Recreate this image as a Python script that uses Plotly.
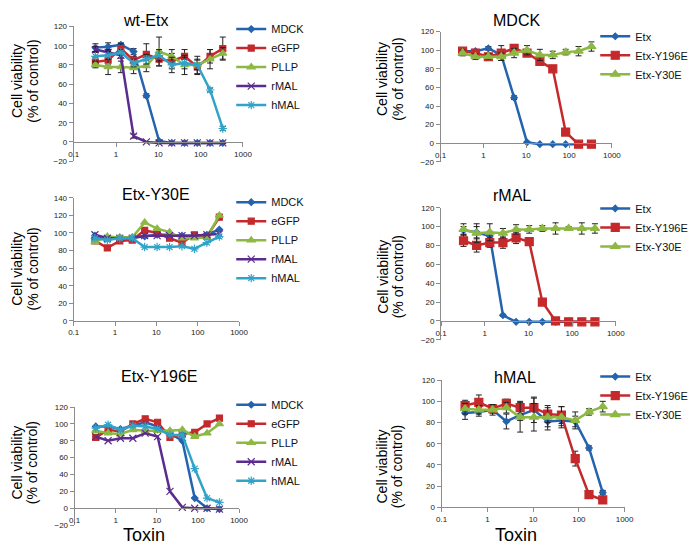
import plotly.graph_objects as go

W, H = 698, 545

# Toxin concentrations (two-fold dilution series)
conc = [0.326, 0.651, 1.302, 2.604, 5.208, 10.42, 20.83, 41.67, 83.33, 166.7, 333.3]
x_tickvals = [0.1, 1, 10, 100, 1000]
x_ticktext = ["0.1", "1", "10", "100", "1000"]

# ---- wt-Etx panel (cell lines) ----
wt_mdck = [98, 99, 101, 94, 48, 1, -1, -1, -1, -1, -1]
wt_egfp = [83, 85, 97, 85, 91, 86, 84, 89, 78, 89, 97]
wt_pllp = [80, 78, 78, 77, 79, 94, 89, 80, 80, 86, 92]
wt_rmal = [96, 93, 90, 6, 0, -1, -1, -1, -1, -1, -1]
wt_hmal = [89, 90, 93, 82, 86, 90, 80, 82, 80, 54, 14]
wt_mdck_err = [4, 4, 2, 3, 2, 1, 0, 0, 0, 0, 0]
wt_egfp_err = [5, 5, 5, 4, 11, 7, 8, 7, 8, 7, 12]
wt_pllp_err = [3, 8, 6, 6, 6, 15, 7, 10, 9, 10, 6]
wt_rmal_err = [3, 3, 3, 2, 0, 0, 0, 0, 0, 0, 0]
wt_hmal_err = [5, 4, 3, 4, 5, 6, 8, 6, 5, 2, 2]

# ---- Etx-Y30E panel ----
y30_mdck = [97, 94, 95, 95, 96, 98, 98, 97, 97, 98, 104]
y30_egfp = [91, 83, 91, 92, 103, 100, 94, 89, 98, 96, 118]
y30_pllp = [90, 96, 95, 95, 112, 105, 101, 94, 94, 95, 120]
y30_rmal = [98, 94, 94, 94, 97, 97, 97, 97, 97, 98, 99]
y30_hmal = [94, 92, 94, 94, 84, 84, 84, 85, 82, 89, 96]

# ---- Etx-Y196E panel ----
y196_mdck = [97, 97, 94, 98, 102, 97, 88, 80, 12, 0, -1]
y196_egfp = [84, 93, 91, 100, 106, 102, 84, 88, 90, 100, 107]
y196_pllp = [92, 89, 88, 93, 92, 92, 92, 93, 85, 89, 100]
y196_rmal = [85, 80, 83, 83, 89, 85, 20, 1, 0, 0, -1]
y196_hmal = [95, 99, 93, 98, 97, 94, 87, 87, 47, 12, 7]

# ---- MDCK panel (toxins) ----
mdck_etx = [99, 99, 102, 95, 49, 1, -1, -1, -1, -1, -1]
mdck_y196 = [99, 97, 93, 97, 102, 97, 88, 80, 12, -1, -1]
mdck_y30 = [97, 93, 93, 93, 97, 100, 95, 95, 98, 99, 104]
mdck_etx_err = [3, 2, 2, 2, 2, 1, 0, 0, 0, 0, 0]
mdck_y196_err = [3, 2, 2, 8, 2, 3, 3, 3, 2, 0, 0]
mdck_y30_err = [3, 3, 3, 4, 5, 5, 6, 4, 3, 5, 5]

# ---- rMAL panel ----
rmal_etx = [96, 94, 90, 6, -1, -1, -1, -1, -1, -1, -1]
rmal_y196 = [85, 80, 83, 83, 88, 84, 20, 0, -1, -1, -1]
rmal_y30 = [97, 93, 94, 93, 97, 97, 98, 98, 98, 98, 98]
rmal_etx_err = [4, 6, 5, 1, 0, 0, 0, 0, 0, 0, 0]
rmal_y196_err = [6, 7, 5, 6, 6, 3, 2, 0, 0, 0, 0]
rmal_y30_err = [6, 10, 9, 5, 5, 4, 3, 6, 2, 6, 5]

# ---- hMAL panel ----
hmal_etx = [89, 90, 92, 81, 87, 92, 81, 82, 81, 56, 14]
hmal_y196 = [96, 99, 93, 98, 94, 94, 88, 87, 46, 12, 7]
hmal_y30 = [93, 92, 92, 94, 85, 85, 85, 85, 82, 90, 95]
hmal_etx_err = [6, 4, 3, 7, 5, 12, 8, 5, 5, 2, 2]
hmal_y196_err = [5, 7, 4, 4, 6, 9, 8, 8, 7, 2, 2]
hmal_y30_err = [5, 4, 5, 5, 14, 13, 9, 10, 8, 3, 5]

BLUE = "#2463AE"
RED = "#C4292C"
GREEN = "#8DB843"
PURPLE = "#5B2C8E"
CYAN = "#31A3C9"
FONT = "Liberation Sans, Arial, sans-serif"

STYLE = {
    "MDCK": (BLUE, "diamond", 5),
    "eGFP": (RED, "square", 6),
    "PLLP": (GREEN, "triangle-up", 7),
    "rMAL": (PURPLE, "x-thin-open", 7),
    "hMAL": (CYAN, "asterisk-open", 7),
    "Etx": (BLUE, "diamond", 5),
    "Etx-Y196E": (RED, "square", 8),
    "Etx-Y30E": (GREEN, "triangle-up", 8),
}


def fx(px):
    return px / W


def fy(py):
    return 1 - py / H


panels = [
    dict(xd=(61, 234), yd=(14.7, 151.7), yr=(-20, 120), title="wt-Etx", tpos=(134, 9),
         lab_y=70, leg_y=56, leg_x=222, col=0),
    dict(xd=(61, 230), yd=(189, 314), yr=(0, 140), title="Etx-Y30E", tpos=(145, 186),
         lab_y=261, leg_y=232, leg_x=222, col=0),
    dict(xd=(62, 230), yd=(401.7, 521.7), yr=(-20, 120), title="Etx-Y196E", tpos=(148, 371),
         lab_y=458, leg_y=438, leg_x=222, col=0),
    dict(xd=(436, 611), yd=(20, 152.3), yr=(-20, 120), title="MDCK", tpos=(514, 9),
         lab_y=68, leg_y=44, leg_x=594, col=1),
    dict(xd=(436.5, 615), yd=(199, 333.3), yr=(-20, 120), title="rMAL", tpos=(509, 187),
         lab_y=269, leg_y=219, leg_x=594, col=1),
    dict(xd=(437, 624), yd=(374.3, 503.7), yr=(0, 120), title="hMAL", tpos=(512, 372),
         lab_y=462, leg_y=390, leg_x=594, col=1),
]

series = [
    [("MDCK", wt_mdck, wt_mdck_err), ("eGFP", wt_egfp, wt_egfp_err), ("PLLP", wt_pllp, wt_pllp_err),
     ("rMAL", wt_rmal, wt_rmal_err), ("hMAL", wt_hmal, wt_hmal_err)],
    [("MDCK", y30_mdck, None), ("eGFP", y30_egfp, None), ("PLLP", y30_pllp, None),
     ("rMAL", y30_rmal, None), ("hMAL", y30_hmal, None)],
    [("MDCK", y196_mdck, None), ("eGFP", y196_egfp, None), ("PLLP", y196_pllp, None),
     ("rMAL", y196_rmal, None), ("hMAL", y196_hmal, None)],
    [("Etx", mdck_etx, mdck_etx_err), ("Etx-Y196E", mdck_y196, mdck_y196_err),
     ("Etx-Y30E", mdck_y30, mdck_y30_err)],
    [("Etx", rmal_etx, rmal_etx_err), ("Etx-Y196E", rmal_y196, rmal_y196_err),
     ("Etx-Y30E", rmal_y30, rmal_y30_err)],
    [("Etx", hmal_etx, hmal_etx_err), ("Etx-Y196E", hmal_y196, hmal_y196_err),
     ("Etx-Y30E", hmal_y30, hmal_y30_err)],
]

fig = go.Figure()
annotations = []
layout = {}

for i, (p, ser) in enumerate(zip(panels, series)):
    n = i + 1
    sfx = "" if n == 1 else str(n)
    legname = "legend" if n == 1 else f"legend{n}"
    for name, vals, err in ser:
        color, sym, size = STYLE[name]
        tr = go.Scatter(
            x=conc, y=vals, name=name, mode="lines+markers",
            xaxis="x" + sfx, yaxis="y" + sfx, legend=legname,
            line=dict(color=color, width=2.5),
            marker=dict(symbol=sym, size=size, color=color, line=dict(color=color, width=1.2)),
        )
        if err is not None:
            tr.error_y = dict(type="data", array=err, visible=True, color="#222222",
                              thickness=1, width=3)
        fig.add_trace(tr)

    ymin, ymax = p["yr"]
    ydom = (fy(p["yd"][1]), fy(p["yd"][0]))
    xdom = (fx(p["xd"][0]), fx(p["xd"][1]))
    xa = dict(
        type="log", range=[-1, 3], domain=list(xdom),
        tickvals=x_tickvals, ticktext=x_ticktext,
        showline=True, linecolor="#8c8c8c", linewidth=1,
        ticks="outside", ticklen=4, tickcolor="#8c8c8c",
        showgrid=False, zeroline=False,
        tickfont=dict(size=8, color="#222", family=FONT),
    )
    if ymin < 0:
        zero_pos = ydom[0] + (0 - ymin) / (ymax - ymin) * (ydom[1] - ydom[0])
        xa.update(anchor="free", position=zero_pos)
    else:
        xa.update(anchor="y" + sfx)
    ya = dict(
        range=[ymin, ymax], domain=list(ydom), dtick=20, anchor="x" + sfx,
        showline=True, linecolor="#8c8c8c", linewidth=1,
        ticks="outside", ticklen=4, tickcolor="#8c8c8c",
        showgrid=False, zeroline=False,
        tickfont=dict(size=8, color="#222", family=FONT),
    )
    layout["xaxis" + sfx] = xa
    layout["yaxis" + sfx] = ya
    layout[legname] = dict(
        x=fx(p["leg_x"]), y=fy(p["leg_y"]), xanchor="left", yanchor="middle",
        bgcolor="rgba(0,0,0,0)", borderwidth=0,
        font=dict(size=11, color="#111", family=FONT),
    )

    annotations.append(dict(
        text=p["title"], x=fx(p["tpos"][0]), y=fy(p["tpos"][1]), xref="paper", yref="paper",
        showarrow=False, xanchor="center", yanchor="middle",
        font=dict(size=16, color="#000", family=FONT)))
    # axis title lines, left edges given in pixels
    left_x = -7 if p["col"] == 0 else 366
    for k, txt in enumerate(["Cell viability", "(% of control)"]):
        annotations.append(dict(
            text=txt, x=fx(left_x + 16 * k), y=fy(p["lab_y"]), xref="paper", yref="paper",
            showarrow=False, xanchor="left", yanchor="middle", textangle=-90,
            font=dict(size=14, color="#000", family=FONT)))

for tx in (133, 513):
    annotations.append(dict(
        text="Toxin", x=fx(tx), y=fy(532), xref="paper", yref="paper",
        showarrow=False, xanchor="center", yanchor="middle",
        font=dict(size=18, color="#000", family=FONT)))

fig.update_layout(
    width=W, height=H,
    margin=dict(l=0, r=0, t=0, b=0),
    paper_bgcolor="white", plot_bgcolor="white",
    showlegend=True,
    annotations=annotations,
    **layout,
)

fig.write_html("out.html")
